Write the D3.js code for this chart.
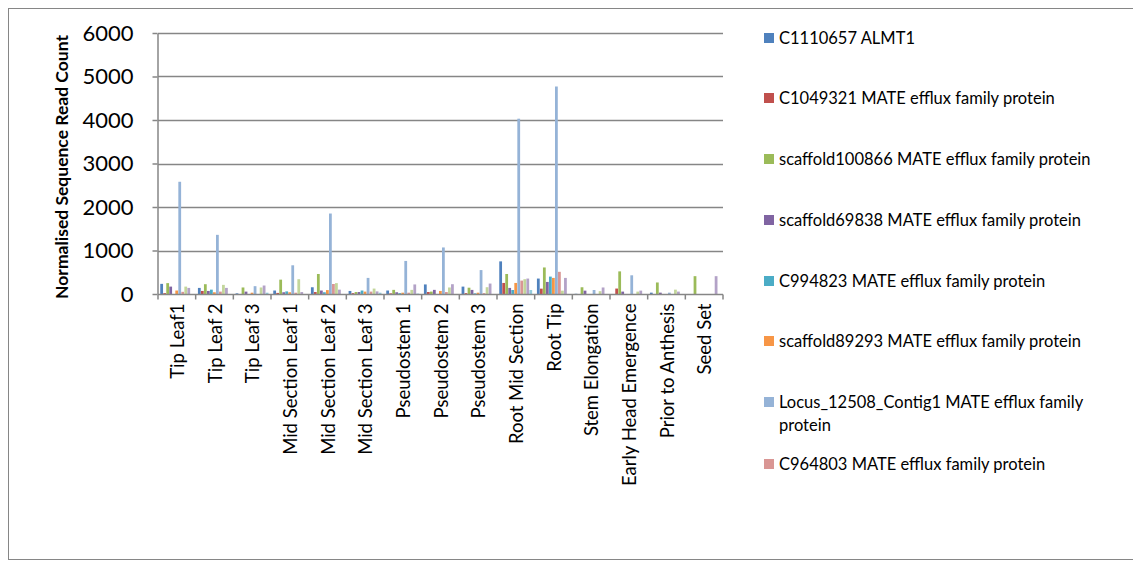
<!DOCTYPE html>
<html>
<head>
<meta charset="utf-8">
<script src="https://cdn.jsdelivr.net/npm/d3@7"></script>
<style>
  body { margin: 0; background: #fff; }
  text { font-family: Lato, "Open Sans", sans-serif; }
</style>
</head>
<body>
<div id="chart-area"></div>
<script>
var categories = ["Tip Leaf1", "Tip Leaf 2", "Tip Leaf 3", "Mid Section Leaf 1", "Mid Section Leaf 2",
  "Mid Section Leaf 3", "Pseudostem 1", "Pseudostem 2", "Pseudostem 3", "Root Mid Section",
  "Root Tip", "Stem Elongation", "Early Head Emergence", "Prior to Anthesis", "Seed Set"];

var seriesNames = ["C1110657 ALMT1", "C1049321 MATE efflux family protein",
  "scaffold100866 MATE efflux family protein", "scaffold69838 MATE efflux family protein",
  "C994823 MATE efflux family protein", "scaffold89293 MATE efflux family protein",
  "Locus_12508_Contig1 MATE efflux family protein", "C964803 MATE efflux family protein",
  "Series 9", "Series 10", "Series 11"];

var colors = ["#4F81BD", "#C0504D", "#9BBB59", "#8064A2", "#4BACC6", "#F79646",
  "#95B3D7", "#D99694", "#C3D69B", "#B3A2C7", "#93CDDD"];

// one array per series, one value per category
var s1  = [233, 140, 15, 80, 155, 70, 80, 220, 170, 750, 355, 5, 0, 31, 0];
var s2  = [20, 70, 0, 25, 45, 20, 15, 45, 20, 254, 123, 0, 125, 0, 0];
var s3  = [250, 225, 150, 330, 460, 45, 95, 55, 145, 460, 610, 155, 520, 265, 410];
var s4  = [170, 70, 55, 40, 80, 45, 40, 95, 94, 140, 277, 77, 55, 31, 0];
var s5  = [0, 100, 0, 60, 40, 80, 20, 0, 15, 92, 400, 0, 0, 0, 0];
var s6  = [80, 40, 30, 40, 90, 55, 30, 70, 30, 254, 370, 0, 0, 0, 0];
var s7  = [2580, 1360, 180, 660, 1850, 370, 760, 1070, 550, 4030, 4770, 92, 430, 31, 0];
var s8  = [50, 55, 0, 30, 230, 55, 30, 45, 20, 308, 510, 0, 0, 0, 0];
var s9  = [170, 210, 150, 340, 250, 125, 95, 150, 156, 340, 77, 65, 55, 100, 0];
var s10 = [140, 140, 195, 45, 100, 60, 220, 225, 240, 355, 370, 150, 78, 55, 410];
var s11 = [0, 0, 30, 0, 0, 30, 10, 0, 0, 92, 0, 0, 0, 0, 0];
var series = [s1, s2, s3, s4, s5, s6, s7, s8, s9, s10, s11];

var yTicks = [0, 1000, 2000, 3000, 4000, 5000, 6000];
var legendCount = 8;

var W = 1133, H = 569;
var plot = { left: 158, right: 723, top: 33, bottom: 294 };

var svg = d3.select("#chart-area")
  .append("svg")
  .attr("width", W)
  .attr("height", H);

// chart border
svg.append("rect")
  .attr("x", 8.5).attr("y", 8.5)
  .attr("width", 1140).attr("height", 551)
  .attr("fill", "none")
  .attr("stroke", "#868686")
  .attr("stroke-width", 1);

var x0 = d3.scaleBand()
  .domain(categories)
  .range([plot.left, plot.right])
  .paddingInner(0.12)
  .paddingOuter(0.06);

var x1 = d3.scaleBand()
  .domain(d3.range(series.length))
  .range([0, x0.bandwidth()]);

var y = d3.scaleLinear()
  .domain([0, 6000])
  .range([plot.bottom, plot.top]);

// gridlines
svg.append("g")
  .selectAll("line")
  .data(yTicks.slice(1))
  .enter()
  .append("line")
  .attr("x1", plot.left).attr("x2", plot.right)
  .attr("y1", d => Math.round(y(d)) + 0.5)
  .attr("y2", d => Math.round(y(d)) + 0.5)
  .attr("stroke", "#868686")
  .attr("stroke-width", 1.5);

// bars
var groups = svg.append("g")
  .selectAll("g")
  .data(categories)
  .enter()
  .append("g")
  .attr("transform", d => "translate(" + x0(d) + ",0)");

groups.selectAll("rect")
  .data((c, ci) => series.map((s, si) => ({ si: si, v: s[ci] })))
  .enter()
  .append("rect")
  .attr("x", d => x1(d.si))
  .attr("y", d => y(d.v))
  .attr("width", x1.bandwidth() * 0.92)
  .attr("height", d => plot.bottom - y(d.v))
  .attr("fill", d => colors[d.si]);

// y axis
var yAxisCall = d3.axisLeft(y)
  .tickValues(yTicks)
  .tickFormat(d3.format("d"))
  .tickSize(5)
  .tickSizeOuter(0)
  .tickPadding(19);

var yAxis = svg.append("g")
  .attr("transform", "translate(" + (plot.left - 0.5) + ",0)")
  .call(yAxisCall);
yAxis.select(".domain").attr("stroke", "#868686").attr("stroke-width", 1.5);
yAxis.selectAll(".tick line").attr("stroke", "#868686").attr("stroke-width", 1.5);
yAxis.selectAll("text")
  .attr("font-size", "22px")
  .attr("fill", "#000")
  .style("font-family", "Lato, sans-serif");

// x axis
var xAxis = svg.append("g")
  .attr("transform", "translate(0," + (plot.bottom + 0.5) + ")");
xAxis.append("line")
  .attr("x1", plot.left).attr("x2", plot.right)
  .attr("y1", 0).attr("y2", 0)
  .attr("stroke", "#868686").attr("stroke-width", 1.5);
var step = x0.step();
xAxis.selectAll(".xtick")
  .data(d3.range(categories.length + 1))
  .enter()
  .append("line")
  .attr("class", "xtick")
  .attr("x1", i => plot.left + i * step)
  .attr("x2", i => plot.left + i * step)
  .attr("y1", 0).attr("y2", 5)
  .attr("stroke", "#868686").attr("stroke-width", 1.5);
xAxis.selectAll("text")
  .data(categories)
  .enter()
  .append("text")
  .attr("transform", d => "translate(" + (x0(d) + x0.bandwidth() / 2 + 7) + ",9) rotate(-90)")
  .attr("text-anchor", "end")
  .attr("font-size", "18.5px")
  .attr("fill", "#000")
  .text(d => d);

// y label
svg.append("text")
  .attr("transform", "translate(68,167) rotate(-90)")
  .attr("text-anchor", "middle")
  .attr("font-size", "17.5px")
  .attr("font-weight", "bold")
  .attr("fill", "#000")
  .text("Normalised Sequence Read Count");

// legend
var legendY = [38, 98, 159, 220, 281, 341, 402, 464];
var legend = svg.append("g")
  .selectAll("g")
  .data(seriesNames.slice(0, legendCount))
  .enter()
  .append("g")
  .attr("transform", (d, i) => "translate(764," + legendY[i] + ")");

legend.append("rect")
  .attr("x", 0).attr("y", -5)
  .attr("width", 10).attr("height", 10)
  .attr("fill", (d, i) => colors[i]);

legend.append("text")
  .attr("x", 15).attr("y", 5.5)
  .attr("font-size", "16.5px")
  .attr("fill", "#000")
  .each(function (d) {
    var t = d3.select(this);
    if (d.indexOf("Locus") === 0) {
      t.append("tspan").attr("x", 15).attr("dy", 0).text("Locus_12508_Contig1 MATE efflux family");
      t.append("tspan").attr("x", 15).attr("dy", 23).text("protein");
    } else {
      t.text(d);
    }
  });
</script>
</body>
</html>
